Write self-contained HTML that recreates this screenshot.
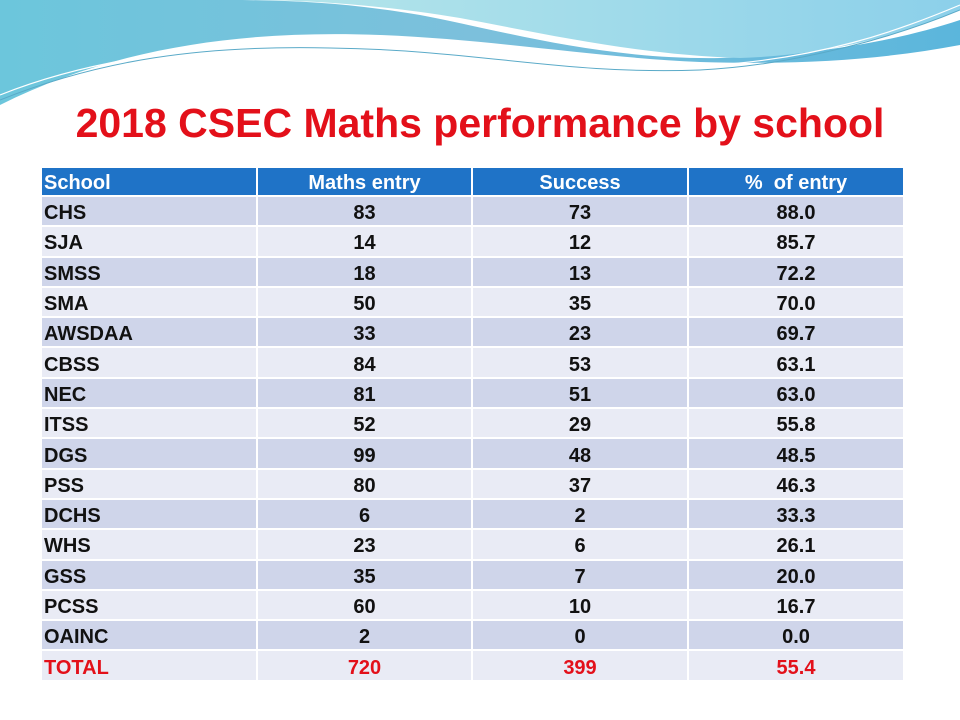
<!DOCTYPE html>
<html><head><style>
body{margin:0;width:960px;height:720px;background:#fff;position:relative;overflow:hidden;font-family:"Liberation Sans",sans-serif}
#t{position:absolute;left:0;width:960px;top:100px;text-align:center;color:#e3101a;font-weight:bold;font-size:41px}
table{position:absolute;left:40px;top:168px;width:863px;border-collapse:collapse;table-layout:fixed}
td{height:24.3px;padding:4px 0 0 0;border:2px solid #fff;font-weight:bold;font-size:20px;text-align:center;color:#111;line-height:24px}
td:first-child{text-align:left;padding-left:2px}
tr.h td{background:#1f73c7;color:#fff;height:24px;padding-top:3px;border-top:0}
tr:nth-child(even) td{background:#cfd5ea}
tr:nth-child(odd) td{background:#e9ebf5}
tr.h td{background:#1f73c7}
tr.tot td{color:#e3101a}
</style></head><body>
<svg width="960" height="110" style="position:absolute;left:0;top:0">
<defs><linearGradient id="g" x1="0" x2="1"><stop offset="0" stop-color="#6cc6dc"/><stop offset="0.5" stop-color="#7cc0dc"/><stop offset="1" stop-color="#5bb6dc"/></linearGradient>
<linearGradient id="g2" x1="0" x2="1"><stop offset="0" stop-color="#b6e6ea"/><stop offset="1" stop-color="#8cd0ea"/></linearGradient></defs>
<path d="M0,0 H960 V45 C880,60 800,65 700,62 C600,58 500,40 380,35 C250,30 120,45 0,105 Z" fill="url(#g)"/>
<path d="M230,0 H960 V20 C900,40 820,55 720,58 C600,60 500,30 420,15 C350,3 290,0 230,0 Z" fill="#fff"/>
<path d="M250,0 H960 V10 C900,35 830,55 740,58 C640,55 550,35 460,18 C380,5 310,0 250,0 Z" fill="url(#g2)"/>
<path d="M0,100 C100,60 200,45 330,48 C480,50 560,75 700,70 C800,65 900,35 960,10" fill="none" stroke="#5aaac8" stroke-width="1"/>
<path d="M0,95 C100,55 220,42 350,45 C480,48 580,72 700,66 C820,60 900,30 960,5" fill="none" stroke="#fff" stroke-width="1.2"/>
</svg>
<div id="t">2018 CSEC Maths performance by school</div>
<table>
<colgroup><col style="width:216px"><col style="width:215px"><col style="width:216px"><col style="width:216px"></colgroup>
<tr class="h"><td>School</td><td>Maths entry</td><td>Success</td><td>% &nbsp;of entry</td></tr>
<tr><td>CHS</td><td>83</td><td>73</td><td>88.0</td></tr>
<tr><td>SJA</td><td>14</td><td>12</td><td>85.7</td></tr>
<tr><td>SMSS</td><td>18</td><td>13</td><td>72.2</td></tr>
<tr><td>SMA</td><td>50</td><td>35</td><td>70.0</td></tr>
<tr><td>AWSDAA</td><td>33</td><td>23</td><td>69.7</td></tr>
<tr><td>CBSS</td><td>84</td><td>53</td><td>63.1</td></tr>
<tr><td>NEC</td><td>81</td><td>51</td><td>63.0</td></tr>
<tr><td>ITSS</td><td>52</td><td>29</td><td>55.8</td></tr>
<tr><td>DGS</td><td>99</td><td>48</td><td>48.5</td></tr>
<tr><td>PSS</td><td>80</td><td>37</td><td>46.3</td></tr>
<tr><td>DCHS</td><td>6</td><td>2</td><td>33.3</td></tr>
<tr><td>WHS</td><td>23</td><td>6</td><td>26.1</td></tr>
<tr><td>GSS</td><td>35</td><td>7</td><td>20.0</td></tr>
<tr><td>PCSS</td><td>60</td><td>10</td><td>16.7</td></tr>
<tr><td>OAINC</td><td>2</td><td>0</td><td>0.0</td></tr>
<tr class="tot"><td>TOTAL</td><td>720</td><td>399</td><td>55.4</td></tr>
</table>
</body></html>
